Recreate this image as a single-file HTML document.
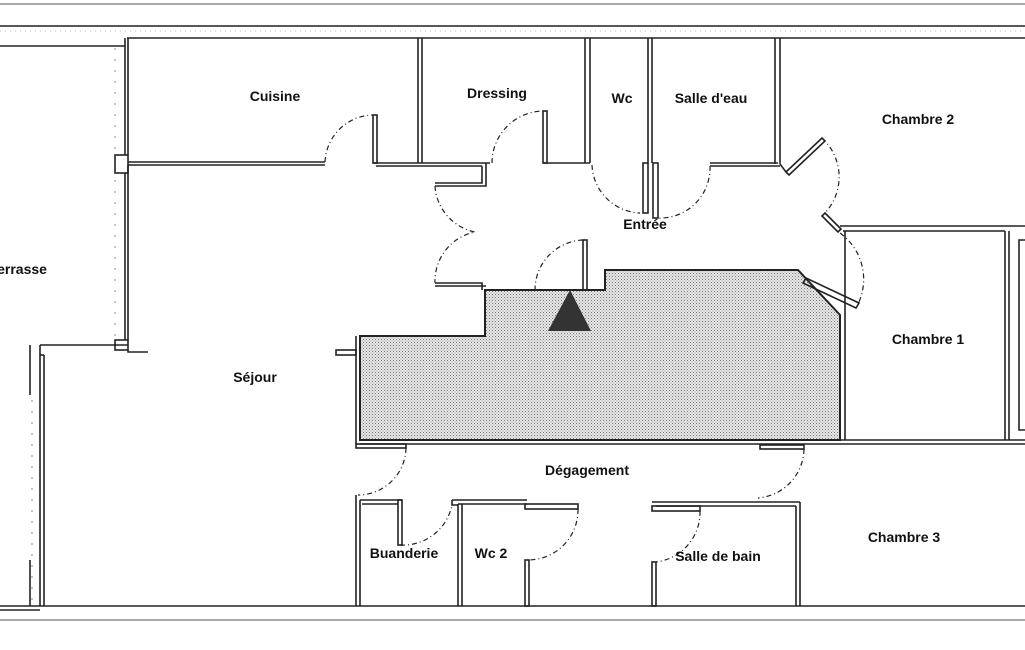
<!DOCTYPE html>
<html><head><meta charset="utf-8"><style>
html,body{margin:0;padding:0;background:#fff;}
svg{display:block;}
text{font-family:"Liberation Sans",sans-serif;font-weight:bold;font-size:14px;fill:#111;text-anchor:middle;}
</style></head><body>
<svg width="1025" height="650" viewBox="0 0 1025 650" xmlns="http://www.w3.org/2000/svg">
<defs>
<pattern id="dots" width="3" height="3" patternUnits="userSpaceOnUse">
<rect width="3" height="3" fill="#e6e6e6"/><rect x="0" y="0" width="1" height="1" fill="#777"/><rect x="1.5" y="1.5" width="1" height="1" fill="#999"/>
</pattern>
</defs>
<g stroke="#555" stroke-width="1" fill="none">
<line x1="0" y1="4" x2="1025" y2="4"/>
<line x1="0" y1="620" x2="1025" y2="620"/>
</g>
<g stroke="#222" stroke-width="1.6" fill="none">
<line x1="0" y1="26" x2="1025" y2="26"/>
<line x1="127" y1="38" x2="1025" y2="38"/>
<line x1="0" y1="46" x2="125" y2="46"/>
<line x1="0" y1="606" x2="1025" y2="606"/>
<line x1="0" y1="610" x2="40" y2="610"/>
</g>
<line x1="0" y1="31" x2="1025" y2="31" stroke="#bbb" stroke-dasharray="1 4"/>
<line x1="115" y1="48" x2="115" y2="350" stroke="#888" stroke-dasharray="2 9"/>
<line x1="32" y1="400" x2="32" y2="600" stroke="#888" stroke-dasharray="2 9"/>
<polygon points="360,336 485,336 485,290 605,290 605,270 798,270 840,315 840,440 360,440" fill="url(#dots)" stroke="#222" stroke-width="2"/>
<polygon points="570,290 548,331 591,331" fill="#333"/>
<g stroke="#222" stroke-width="1.6" fill="none">
<line x1="125" y1="38" x2="125" y2="155"/><line x1="128" y1="38" x2="128" y2="155"/>
<rect x="115" y="155" width="13" height="18"/>
<line x1="125" y1="173" x2="125" y2="340"/><line x1="128" y1="165" x2="128" y2="340"/>
<rect x="115" y="340" width="13" height="10"/>
<polyline points="128,350 128,352 148,352"/>
<polyline points="40,345 128,345"/>
<line x1="40" y1="345" x2="40" y2="606"/><line x1="44" y1="355" x2="44" y2="606"/>
<line x1="40" y1="355" x2="44" y2="355"/>
<line x1="30" y1="345" x2="30" y2="395"/><line x1="30" y1="560" x2="30" y2="606"/>
<line x1="128" y1="162" x2="325" y2="162"/><line x1="128" y1="165" x2="325" y2="165"/>
<rect x="373" y="115" width="4" height="48"/>
<line x1="373" y1="163" x2="490" y2="163"/><line x1="376" y1="166" x2="482" y2="166"/>
<line x1="418" y1="38" x2="418" y2="163"/><line x1="422" y1="38" x2="422" y2="163"/>
<rect x="543" y="111" width="4" height="52"/>
<line x1="543" y1="163" x2="590" y2="163"/>
<line x1="585" y1="38" x2="585" y2="163"/><line x1="590" y1="38" x2="590" y2="163"/>
<polyline points="482,166 482,183 435,183"/><polyline points="486,163 486,186 435,186"/>
<line x1="648" y1="38" x2="648" y2="163"/><line x1="652" y1="38" x2="652" y2="163"/>
<rect x="643" y="163" width="5" height="50"/><rect x="653" y="163" width="5" height="55"/>
<line x1="710" y1="163" x2="778" y2="163"/><line x1="710" y1="166" x2="780" y2="166"/>
<line x1="775" y1="38" x2="775" y2="164"/><line x1="780" y1="38" x2="780" y2="164"/>
<line x1="780" y1="164" x2="786" y2="172"/>
<polygon points="786,172 822,138 825,141 789,175" />
<polygon points="825,213 841,229 838,232 822,216"/>
<line x1="840" y1="226" x2="1025" y2="226"/><line x1="843" y1="231" x2="1005" y2="231"/>
<line x1="1005" y1="231" x2="1005" y2="440"/><line x1="1009" y1="231" x2="1009" y2="440"/>
<polyline points="1025,240 1019,240 1019,430 1025,430"/>
<line x1="845" y1="231" x2="845" y2="440"/>
<polygon points="803,283 806,278 859,303 856,308"/>
<line x1="360" y1="440" x2="1025" y2="440"/><line x1="360" y1="444" x2="1025" y2="444"/>
<polyline points="435,283 482,283 482,290"/><polyline points="435,286 486,286"/>
<rect x="583" y="240" width="4" height="50"/>
<rect x="336" y="350" width="20" height="5"/>
<line x1="356" y1="336" x2="356" y2="444"/>
<rect x="356" y="444" width="50" height="4"/>
<rect x="760" y="445" width="44" height="4"/>
<polyline points="356,495 356,606"/><polyline points="360,500 360,606"/>
<line x1="360" y1="500" x2="402" y2="500"/><line x1="362" y1="504" x2="398" y2="504"/>
<rect x="398" y="500" width="4" height="45"/>
<line x1="452" y1="500" x2="527" y2="500"/><line x1="458" y1="504" x2="527" y2="504"/>
<line x1="458" y1="504" x2="458" y2="606"/><line x1="462" y1="504" x2="462" y2="606"/>
<polyline points="452,500 452,505 458,505"/>
<rect x="525" y="504" width="53" height="5"/>
<rect x="525" y="560" width="4" height="46"/>
<line x1="652" y1="502" x2="800" y2="502"/><line x1="656" y1="506" x2="796" y2="506"/>
<rect x="652" y="506" width="48" height="5"/>
<rect x="652" y="562" width="4" height="44"/>
<line x1="796" y1="506" x2="796" y2="606"/><line x1="800" y1="502" x2="800" y2="606"/>
</g>
<g stroke="#222" stroke-width="1.2" fill="none" stroke-dasharray="5 3 1 3">
<path d="M325,162 A49,49 0 0 1 373,115"/>
<path d="M492,163 A52,52 0 0 1 543,111"/>
<path d="M592,165 A50,50 0 0 0 640,213"/>
<path d="M710,166 A50,50 0 0 1 658,218"/>
<path d="M822,138 A53,53 0 0 1 825,213"/>
<path d="M840,233 A57,57 0 0 1 858,304"/>
<path d="M435,186 A50,50 0 0 0 475,232 A50,50 0 0 0 435,283"/>
<path d="M583,240 A50,50 0 0 0 535,290"/>
<path d="M406,448 A48,48 0 0 1 358,495"/>
<path d="M804,449 A50,50 0 0 1 758,498"/>
<path d="M400,545 A50,50 0 0 0 452,505"/>
<path d="M578,509 A50,50 0 0 1 529,560"/>
<path d="M700,511 A50,50 0 0 1 656,562"/>
</g>
<text x="275" y="101">Cuisine</text>
<text x="497" y="98">Dressing</text>
<text x="622" y="103">Wc</text>
<text x="711" y="103">Salle d'eau</text>
<text x="918" y="124">Chambre 2</text>
<text x="645" y="229">Entrée</text>
<text x="22" y="274">errasse</text>
<text x="928" y="344">Chambre 1</text>
<text x="255" y="382">Séjour</text>
<text x="587" y="475">Dégagement</text>
<text x="904" y="542">Chambre 3</text>
<text x="404" y="558">Buanderie</text>
<text x="491" y="558">Wc 2</text>
<text x="718" y="561">Salle de bain</text>
</svg>
</body></html>
